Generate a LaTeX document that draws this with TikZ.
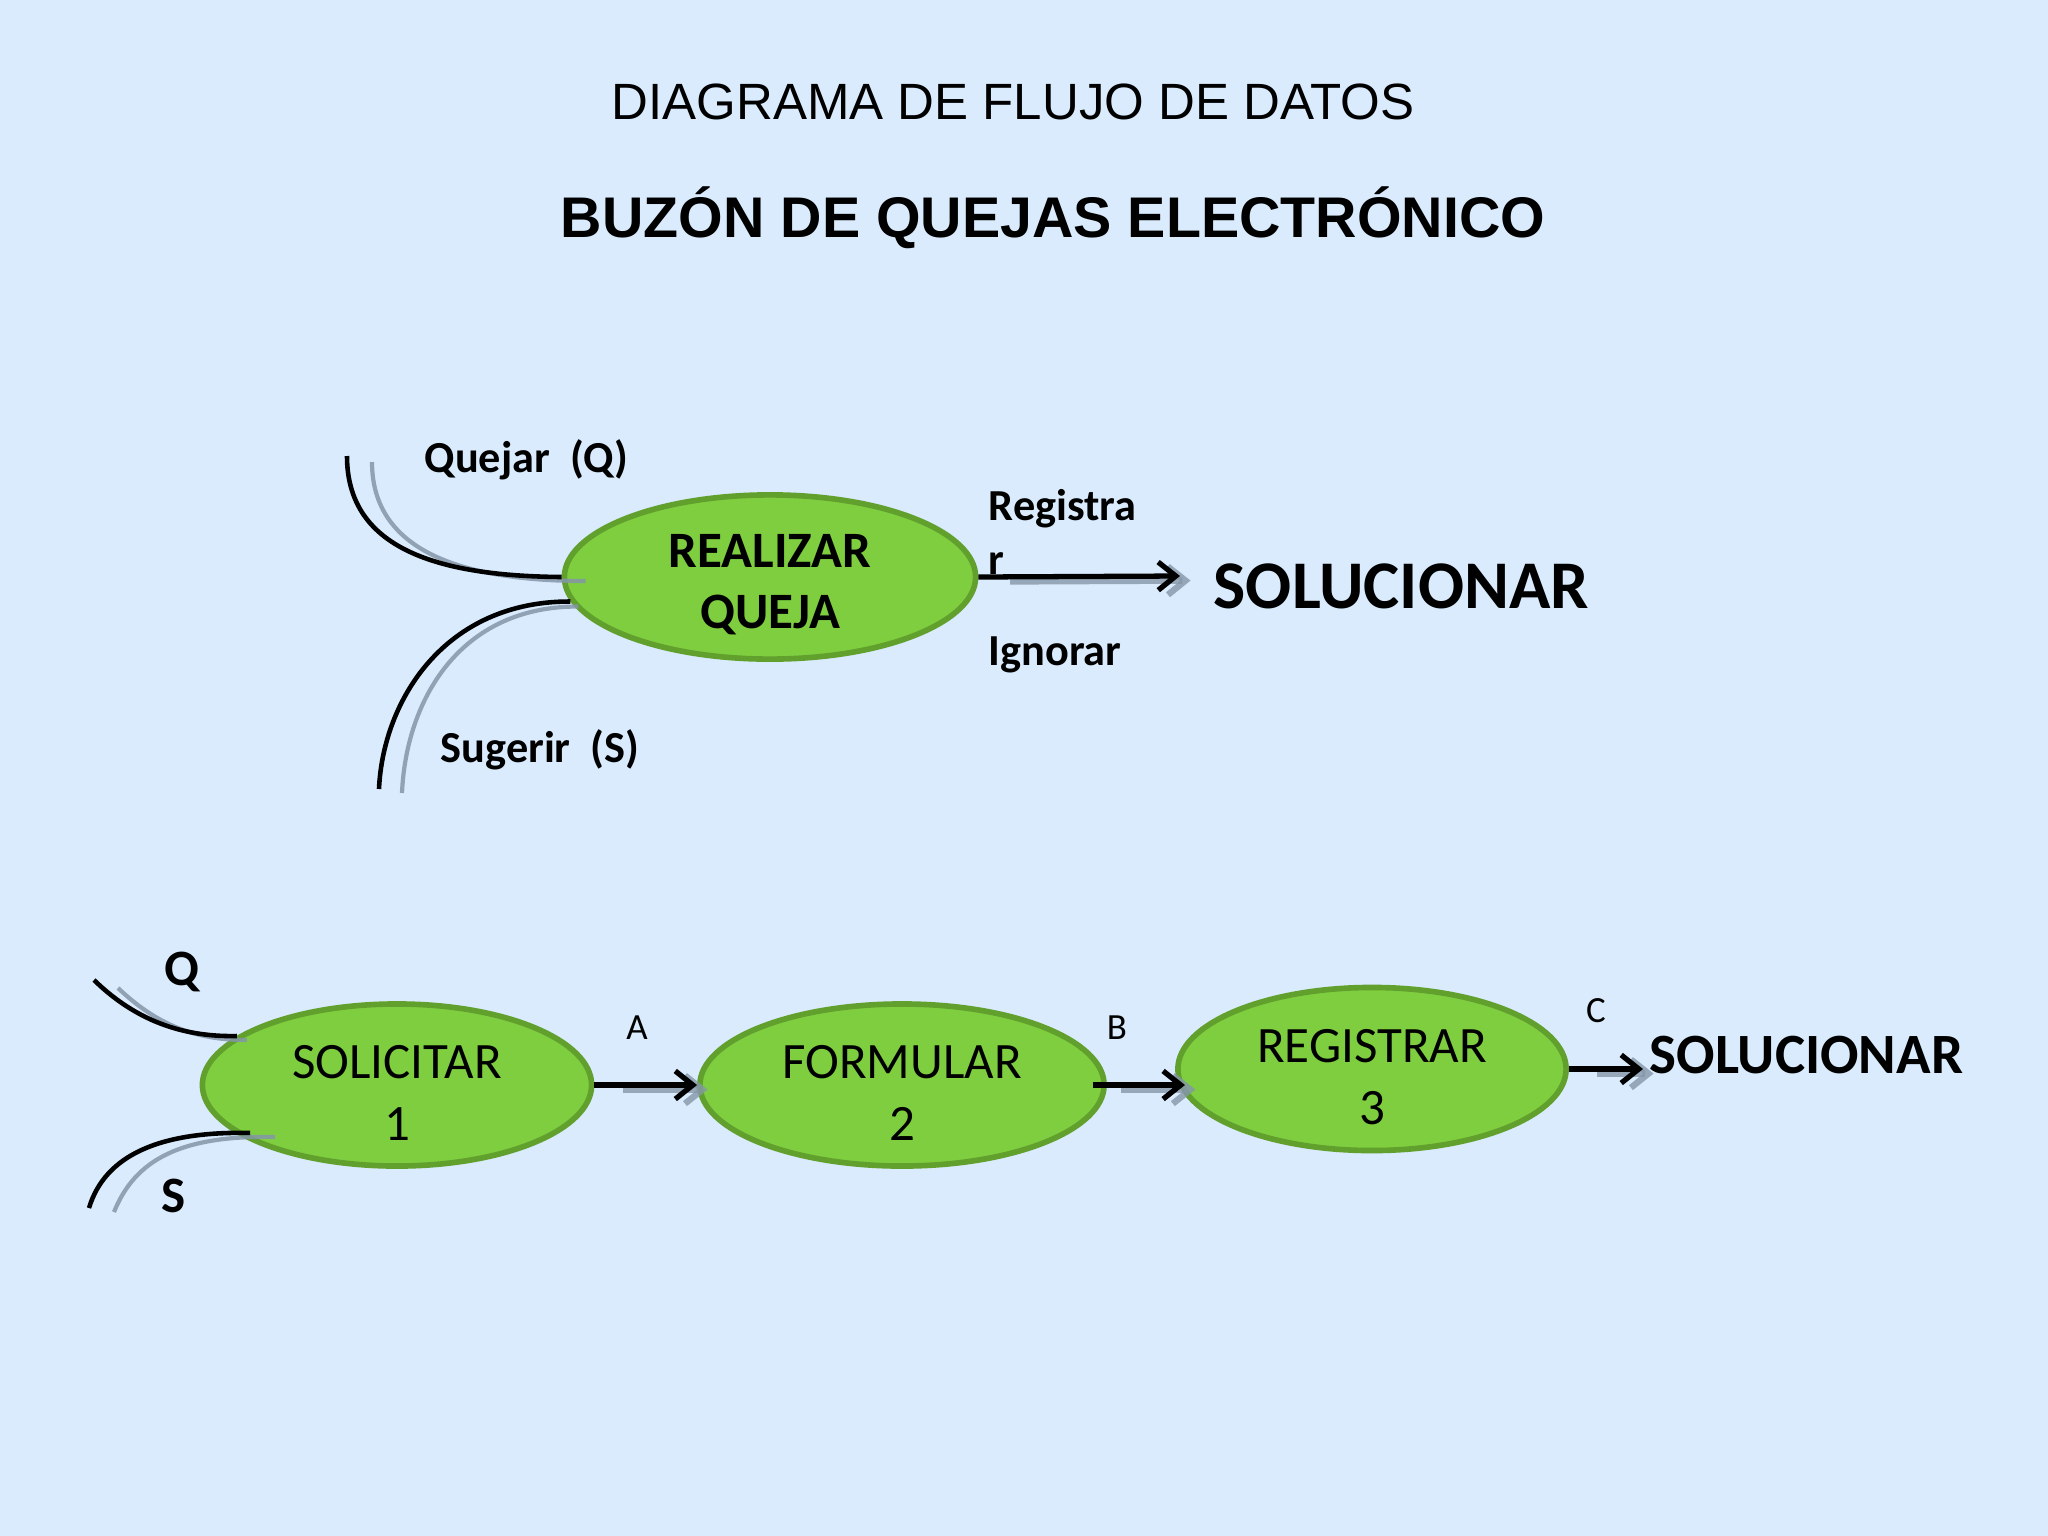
\documentclass[tikz,border=0pt]{standalone}
\usepackage{fontspec}
\setmainfont{Carlito}
\newfontfamily\arialfont{Liberation Sans}
\usetikzlibrary{shapes.geometric, arrows.meta, positioning}

\definecolor{bgblue}{RGB}{217,235,252}
\definecolor{procfill}{RGB}{126,206,64}
\definecolor{procline}{RGB}{98,160,46}
\definecolor{shadowgray}{RGB}{132,150,168}
\newcommand\procstrut{\rule{0pt}{13.8pt}}

\begin{document}
\begin{tikzpicture}[x=0.01cm, y=-0.01cm,
    proc/.style={ellipse, draw=procline, line width=1.6pt, fill=procfill, inner sep=0pt, align=center, font=\fontsize{14.5}{17.6}\selectfont},
    flow/.style={line width=1.5pt, -{Straight Barb[length=5pt, width=8pt]}},
    flowshadow/.style={line width=1.8pt, draw=shadowgray, opacity=0.8, -{Straight Barb[length=5pt, width=8pt]}, transform canvas={xshift=3pt, yshift=-1.3pt}},
    curve/.style={line width=1.3pt},
    curveshadow/.style={line width=1.2pt, draw=shadowgray, opacity=0.85},
    lbl/.style={inner sep=0pt, anchor=west, font=\bfseries\fontsize{12.6}{15.4}\selectfont}
  ]
  \fill[bgblue] (0,0) rectangle (2048,1536);
  \useasboundingbox (0,0) rectangle (2048,1536);

  % titles
  \node[font=\arialfont\fontsize{14.5}{17}\selectfont] (title) at (1013,102) {DIAGRAMA DE FLUJO DE DATOS};
  \node[font=\arialfont\bfseries\fontsize{16.3}{20}\selectfont] (subtitle) at (1053,218) {BUZÓN DE QUEJAS ELECTRÓNICO};

  % upper diagram
  \node[proc, minimum width=4.11cm, minimum height=1.63cm, font=\bfseries\fontsize{14.5}{17.4}\selectfont] (realizar) at (770,577) {\procstrut REALIZAR\\QUEJA};
  \node[inner sep=0pt, anchor=west, font=\bfseries\fontsize{19.4}{22}\selectfont] (sol1) at (1213,586) {SOLUCIONAR};
  \coordinate (tip1) at (1180,576);
  \coordinate (qtop) at (347,456);
  \coordinate (qtopg) at (372,462);
  \coordinate (stop) at (379,789);
  \coordinate (stopg) at (402,793);

  \draw[curveshadow] (qtopg) .. controls (372,545) and (450,581) .. ([shift={(24,4)}]realizar.west);
  \draw[curveshadow] (stopg) .. controls (406,700) and (460,606) .. ([shift={(8,5)}]realizar.187);
  \draw[curve] (qtop) .. controls (347,545) and (430,576) .. (realizar.west);
  \draw[curve] (stop) .. controls (383,700) and (445,601) .. (realizar.187);

  \draw[flowshadow, shorten <=6pt] (realizar.east) -- (tip1);
  \draw[flow] (realizar.east) -- (tip1);

  \node[lbl] (quejar) at (424,460) {Quejar~ (Q)};
  \node[lbl] (sugerir) at (440,750) {Sugerir~ (S)};
  \node[lbl, align=left] (registrar) at (988,532) {Registra\\r};
  \node[lbl] (ignorar) at (988,655) {Ignorar};

  % lower diagram
  \node[proc, minimum width=3.89cm, minimum height=1.62cm] (solicitar) at (397,1085) {\procstrut SOLICITAR\\1};
  \node[proc, minimum width=4.04cm, minimum height=1.62cm] (formular) at (902,1085) {\procstrut FORMULAR\\2};
  \node[proc, minimum width=3.88cm, minimum height=1.63cm] (registrar3) at (1372,1069) {\procstrut REGISTRAR\\3};
  \node[inner sep=0pt, anchor=west, font=\bfseries\fontsize{16.2}{19}\selectfont] (sol2) at (1649,1055) {SOLUCIONAR};

  \coordinate (qbot) at (94,980);
  \coordinate (qbotg) at (118,988);
  \coordinate (sbot) at (89,1208);
  \coordinate (sbotg) at (114,1212);

  \draw[curveshadow] (qbotg) .. controls (160,1028) and (200,1040) .. ([shift={(10,4)}]solicitar.163);
  \draw[curveshadow] (sbotg) .. controls (135,1160) and (180,1135) .. ([shift={(35,1)}]solicitar.198);
  \draw[curve] (qbot) .. controls (140,1025) and (190,1037) .. (solicitar.163);
  \draw[curve] (sbot) .. controls (105,1155) and (160,1131) .. ([shift={(10,-3)}]solicitar.198);

  \draw[flowshadow, shorten <=5pt] (solicitar.east) -- (formular.west);
  \draw[flow] (solicitar.east) -- (formular.west);
  \draw[flowshadow, shorten <=5pt] ([xshift=-4pt]formular.east) -- ([xshift=2.8pt]registrar3.west |- formular.east);
  \draw[flow] ([xshift=-4pt]formular.east) -- ([xshift=2.8pt]registrar3.west |- formular.east);
  \draw[flowshadow, shorten <=5pt] (registrar3.east) -- ([xshift=-1.7pt]registrar3.east -| sol2.west);
  \draw[flow] (registrar3.east) -- ([xshift=-1.7pt]registrar3.east -| sol2.west);

  \node[font=\bfseries\fontsize{14.5}{17}\selectfont] (qlbl) at (182,972) {Q};
  \node[font=\bfseries\fontsize{14.5}{17}\selectfont] (slbl) at (174,1196) {S};
  \node[font=\fontsize{10.5}{12}\selectfont] (albl) at (637,1028) {A};
  \node[font=\fontsize{10.5}{12}\selectfont] (blbl) at (1117,1028) {B};
  \node[font=\fontsize{10.5}{12}\selectfont] (clbl) at (1596,1011) {C};
\end{tikzpicture}
\end{document}
